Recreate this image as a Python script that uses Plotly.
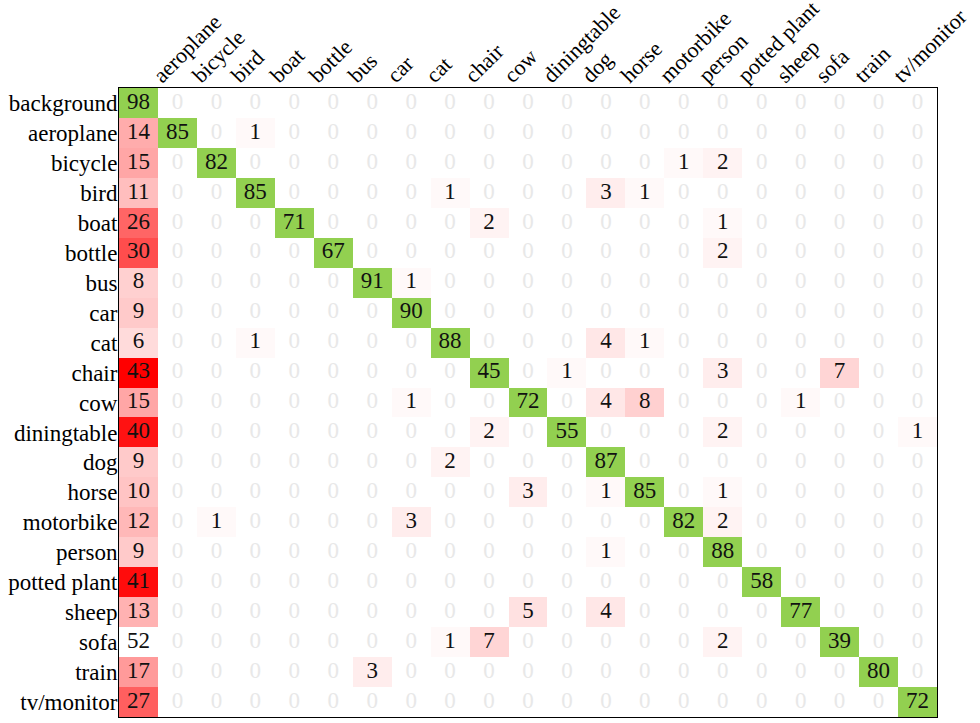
import numpy as np
import plotly.graph_objects as go

# clases (fila = real, columna = prediccion)
clases = ['background', 'aeroplane', 'bicycle', 'bird', 'boat', 'bottle', 'bus',
          'car', 'cat', 'chair', 'cow', 'diningtable', 'dog', 'horse',
          'motorbike', 'person', 'potted plant', 'sheep', 'sofa', 'train',
          'tv/monitor']

# columna background (primera columna)
col_background = [98, 14, 15, 11, 26, 30, 8, 9, 6, 43, 15, 40, 9, 10, 12, 9,
                  41, 13, 52, 17, 27]

# aciertos (diagonal), desde aeroplane
aciertos = [85, 82, 85, 71, 67, 91, 90, 88, 45, 72, 55, 87, 85, 82, 88, 58,
            77, 39, 80, 72]

# confusiones restantes: (real, prediccion, valor)
confusiones = [
    ('aeroplane', 'bird', 1),
    ('bicycle', 'motorbike', 1), ('bicycle', 'person', 2),
    ('bird', 'cat', 1), ('bird', 'dog', 3), ('bird', 'horse', 1),
    ('boat', 'chair', 2), ('boat', 'person', 1),
    ('bottle', 'person', 2),
    ('bus', 'car', 1),
    ('cat', 'bird', 1), ('cat', 'dog', 4), ('cat', 'horse', 1),
    ('chair', 'diningtable', 1), ('chair', 'person', 3), ('chair', 'sofa', 7),
    ('cow', 'car', 1), ('cow', 'dog', 4), ('cow', 'horse', 8), ('cow', 'sheep', 1),
    ('diningtable', 'chair', 2), ('diningtable', 'person', 2),
    ('diningtable', 'tv/monitor', 1),
    ('dog', 'cat', 2),
    ('horse', 'cow', 3), ('horse', 'dog', 1), ('horse', 'person', 1),
    ('motorbike', 'bicycle', 1), ('motorbike', 'car', 3), ('motorbike', 'person', 2),
    ('person', 'dog', 1),
    ('sheep', 'cow', 5), ('sheep', 'dog', 4),
    ('sofa', 'cat', 1), ('sofa', 'chair', 7), ('sofa', 'person', 2),
    ('train', 'bus', 3),
]

n = len(clases)
M = np.zeros((n, n), dtype=int)
M[:, 0] = col_background
for i, v in enumerate(aciertos):
    M[i + 1, i + 1] = v
for real, pred, v in confusiones:
    M[clases.index(real), clases.index(pred)] = v

diag = np.eye(n, dtype=bool)
z_rojo = np.where(diag, np.nan, M.astype(float))
z_verde = np.where(diag, M.astype(float), np.nan)

idx = list(range(n))
fuente = 'Liberation Serif'

fig = go.Figure()

# errores en rojo (los valores que pasan del rango vuelven a blanco)
fig.add_trace(go.Heatmap(
    x=idx, y=idx, z=z_rojo,
    zmin=0, zmax=52,
    colorscale=[[0, '#ffffff'], [43 / 52, '#ff0000'], [0.99, '#ff0000'], [1, '#ffffff']],
    showscale=False, hoverinfo='skip'
))
# diagonal en verde
fig.add_trace(go.Heatmap(
    x=idx, y=idx, z=z_verde,
    colorscale=[[0, '#92d050'], [1, '#92d050']],
    showscale=False, hoverinfo='skip'
))

# numeros de cada celda
xx, yy = np.meshgrid(idx, idx)
vals = M.flatten()
fig.add_trace(go.Scatter(
    x=xx.flatten(), y=yy.flatten(),
    mode='text',
    text=[str(v) for v in vals],
    textfont=dict(family=fuente, size=23,
                  color=['#e8e8e8' if v == 0 else '#111111' for v in vals]),
    hoverinfo='skip', showlegend=False
))

fig.update_layout(
    width=980, height=723,
    margin=dict(l=119, r=43, t=88, b=6),
    paper_bgcolor='white', plot_bgcolor='white',
    font=dict(family=fuente, size=23, color='black'),
    showlegend=False,
    xaxis=dict(
        side='top', tickmode='array', tickvals=idx,
        ticktext=[''] + clases[1:], tickangle=-45,
        range=[-0.5, n - 0.5], showgrid=False, zeroline=False,
        showline=True, mirror=True, linecolor='black', linewidth=1,
        ticks='', tickfont=dict(size=22), automargin=False,
        ticklabeloverflow='allow', ticklabelstandoff=-9, ticklabelshift=-23
    ),
    yaxis=dict(
        tickmode='array', tickvals=idx, ticktext=clases,
        range=[n - 0.5, -0.5], showgrid=False, zeroline=False,
        showline=True, mirror=True, linecolor='black', linewidth=1,
        ticks='', tickfont=dict(size=23), ticklabelstandoff=-4,
        automargin=False, ticklabeloverflow='allow'
    )
)

# sin margen en el body para que no se recorten las etiquetas
fig.write_html('out.html', config={'displayModeBar': False},
               post_script="document.body.style.margin='0';")
